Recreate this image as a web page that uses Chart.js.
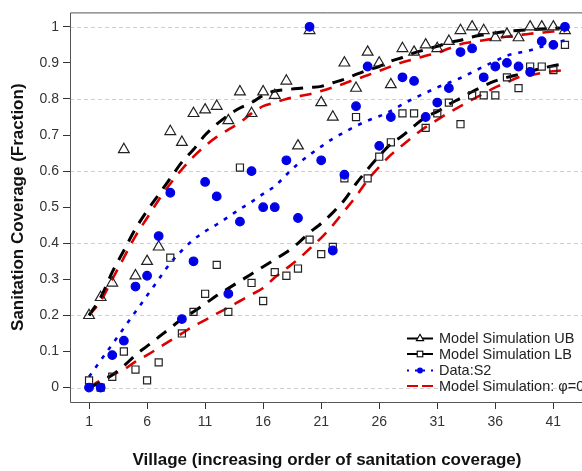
<!DOCTYPE html>
<html>
<head>
<meta charset="utf-8">
<script src="https://cdn.jsdelivr.net/npm/chart.js@4.4.1/dist/chart.umd.min.js"></script>
<style>
  html, body { margin: 0; padding: 0; background: #fff; }
  #wrap { width: 582px; height: 471px; overflow: hidden; position: relative; }
  canvas { display: block; }
</style>
</head>
<body>
<div id="wrap"><canvas id="c" width="620" height="471"></canvas></div>
<script>
// Villages ranked by sanitation coverage
const villages = [1,2,3,4,5,6,7,8,9,10,11,12,13,14,15,16,17,18,19,20,21,
                  22,23,24,25,26,27,28,29,30,31,32,33,34,35,36,37,38,39,40,41,42];

const xTickValues = [1, 6, 11, 16, 21, 26, 31, 36, 41];
const yTickValues = [0, 0.1, 0.2, 0.3, 0.4, 0.5, 0.6, 0.7, 0.8, 0.9, 1];
const yTickLabels = ['0','0.1','0.2','0.3','0.4','0.5','0.6','0.7','0.8','0.9','1'];
const yGridValues = [0, 0.2, 0.4, 0.6, 0.8, 1];

// Upper-bound simulation outcomes (triangles)
const ubPoints = [0.20,0.25,0.29,0.66,0.31,0.35,0.39,0.71,0.68,0.76,0.77,0.78,0.74,0.82,
                  0.76,0.82,0.81,0.85,0.67,0.99,0.79,0.75,0.90,0.83,0.93,0.90,0.84,0.94,
                  0.93,0.95,0.94,0.96,0.99,1.00,0.99,0.97,0.98,0.97,1.00,1.00,1.00,0.99];

// Lower-bound simulation outcomes (squares)
const lbPoints = [0.02,0.00,0.03,0.10,0.05,0.02,0.07,0.36,0.15,0.21,0.26,0.34,0.21,0.61,
                  0.29,0.24,0.32,0.31,0.33,0.41,0.37,0.39,0.58,0.75,0.58,0.64,0.68,0.76,
                  0.76,0.72,0.76,0.79,0.73,0.81,0.81,0.81,0.86,0.83,0.89,0.89,0.88,0.95];

// Observed coverage, survey S2
const dataS2 = [0.00,0.00,0.09,0.13,0.28,0.31,0.42,0.54,0.19,0.35,0.57,0.53,0.26,0.46,
                0.60,0.50,0.50,0.63,0.47,1.00,0.63,0.38,0.59,0.78,0.89,0.67,0.75,0.86,
                0.85,0.75,0.79,0.83,0.93,0.94,0.86,0.89,0.90,0.89,0.875,0.96,0.95,1.00];

// Smoothed curves
const ubCurve = [0.20,0.25,0.32,0.38,0.44,0.49,0.535,0.58,0.625,0.66,0.70,0.73,0.755,0.775,
                 0.79,0.81,0.822,0.826,0.829,0.832,0.835,0.845,0.855,0.868,0.88,0.89,0.905,0.915,
                 0.928,0.937,0.946,0.956,0.963,0.972,0.978,0.983,0.987,0.99,0.992,0.994,0.996,0.997];
const lbCurve = [0.00,0.015,0.035,0.06,0.09,0.115,0.14,0.165,0.19,0.21,0.232,0.255,0.275,0.295,
                 0.315,0.335,0.355,0.375,0.40,0.43,0.455,0.485,0.52,0.565,0.605,0.642,0.675,0.698,
                 0.725,0.75,0.765,0.785,0.802,0.82,0.836,0.85,0.86,0.868,0.877,0.885,0.892,0.898];
const s2Curve = [0.03,0.075,0.12,0.165,0.21,0.255,0.30,0.345,0.38,0.41,0.433,0.452,0.473,0.495,
                 0.515,0.537,0.558,0.59,0.62,0.645,0.668,0.69,0.708,0.725,0.74,0.752,0.767,0.785,
                 0.802,0.817,0.832,0.845,0.858,0.874,0.89,0.905,0.92,0.928,0.935,0.945,0.955,0.962];
const phiUpper = [0.20,0.24,0.30,0.36,0.42,0.47,0.52,0.565,0.605,0.64,0.67,0.695,0.715,0.735,
                  0.76,0.78,0.79,0.80,0.807,0.813,0.822,0.832,0.843,0.855,0.866,0.878,0.89,0.902,
                  0.91,0.92,0.928,0.94,0.952,0.958,0.963,0.968,0.973,0.977,0.981,0.984,0.987,0.988];
const phiLower = [0.00,0.02,0.035,0.05,0.072,0.09,0.11,0.13,0.15,0.17,0.187,0.205,0.222,0.24,
                  0.258,0.276,0.305,0.33,0.355,0.385,0.415,0.45,0.49,0.53,0.575,0.612,0.645,0.672,
                  0.698,0.722,0.742,0.762,0.78,0.798,0.815,0.832,0.846,0.86,0.866,0.872,0.877,0.88];

const legendLabels = ['Model Simulation UB', 'Model Simulation LB', 'Data:S2', 'Model Simulation: \u03C6=0'];
const xTitle = 'Village (increasing order of sanitation coverage)';
const yTitle = 'Sanitation Coverage (Fraction)';

const BLUE = '#0000e6';
const RED = '#dd0000';
const FONT = '"Liberation Sans", Arial, sans-serif';

const pts = ys => villages.map((v, i) => ({ x: v, y: ys[i] }));

const curve = (ys, color, width, dash, order) => ({
  data: pts(ys), borderColor: color, borderWidth: width, borderDash: dash,
  borderCapStyle: 'butt', pointRadius: 0, fill: false,
  cubicInterpolationMode: 'monotone', order
});

const markers = (ys, style, radius, stroke, fillColor, order) => ({
  data: pts(ys), showLine: false, pointStyle: style, pointRadius: radius,
  pointBorderColor: stroke, pointBackgroundColor: fillColor, pointBorderWidth: 1.2,
  borderColor: stroke, backgroundColor: fillColor, order
});

// Grid, frame, axis titles and legend
const decor = {
  id: 'decor',
  beforeDatasetsDraw(chart) {
    const { ctx, chartArea: a, scales: { y } } = chart;
    ctx.save();
    ctx.strokeStyle = '#d0d0d0';
    ctx.lineWidth = 1;
    ctx.setLineDash([4, 3]);
    yGridValues.forEach(v => {
      const py = Math.round(y.getPixelForValue(v)) + 0.5;
      ctx.beginPath(); ctx.moveTo(a.left, py); ctx.lineTo(a.right, py); ctx.stroke();
    });
    ctx.restore();
  },
  afterDraw(chart) {
    const { ctx, chartArea: a } = chart;
    ctx.save();
    ctx.strokeStyle = '#555';
    ctx.lineWidth = 1;
    const L = a.left + 0.5, T = a.top + 0.5, B = Math.round(a.bottom) + 0.5;
    ctx.beginPath();
    ctx.moveTo(a.right, T); ctx.lineTo(L, T); ctx.lineTo(L, B); ctx.lineTo(a.right, B);
    ctx.stroke();

    ctx.fillStyle = '#111';
    ctx.font = 'bold 17px ' + FONT;
    ctx.textAlign = 'center';
    ctx.textBaseline = 'middle';
    ctx.fillText(xTitle, (a.left + a.right) / 2, 460);
    ctx.save();
    ctx.translate(18, (a.top + a.bottom) / 2);
    ctx.rotate(-Math.PI / 2);
    ctx.fillText(yTitle, 0, 0);
    ctx.restore();

    // legend
    const rowsY = [338.5, 354, 370.5, 386];
    const x0 = 407, x1 = 433, xm = 420, tx = 439;
    ctx.font = '14.5px ' + FONT;
    ctx.textAlign = 'left';
    ctx.fillStyle = '#222';
    legendLabels.forEach((t, i) => ctx.fillText(t, tx, rowsY[i] + 0.5));

    // UB row
    let yy = rowsY[0];
    ctx.strokeStyle = '#000'; ctx.lineWidth = 2; ctx.setLineDash([]);
    ctx.beginPath(); ctx.moveTo(x0, yy); ctx.lineTo(x1, yy); ctx.stroke();
    ctx.fillStyle = '#fff'; ctx.lineWidth = 1.1;
    const r = 4.2;
    ctx.beginPath();
    ctx.moveTo(xm, yy - r);
    ctx.lineTo(xm + r * 0.866, yy + r * 0.5);
    ctx.lineTo(xm - r * 0.866, yy + r * 0.5);
    ctx.closePath(); ctx.fill(); ctx.stroke();

    // LB row
    yy = rowsY[1];
    ctx.lineWidth = 2;
    ctx.beginPath(); ctx.moveTo(x0, yy); ctx.lineTo(x1, yy); ctx.stroke();
    ctx.lineWidth = 1.1;
    ctx.fillRect(xm - 2.8, yy - 2.8, 5.6, 5.6);
    ctx.strokeRect(xm - 2.8, yy - 2.8, 5.6, 5.6);

    // Data row
    yy = rowsY[2];
    ctx.strokeStyle = BLUE; ctx.lineWidth = 2.2; ctx.setLineDash([2, 6]);
    ctx.beginPath(); ctx.moveTo(x0, yy); ctx.lineTo(x1, yy); ctx.stroke();
    ctx.setLineDash([]);
    ctx.fillStyle = BLUE;
    ctx.beginPath(); ctx.arc(xm, yy, 3, 0, Math.PI * 2); ctx.fill();

    // phi row
    yy = rowsY[3];
    ctx.strokeStyle = RED; ctx.lineWidth = 2.2; ctx.setLineDash([11, 4]);
    ctx.beginPath(); ctx.moveTo(x0, yy); ctx.lineTo(x1 + 1, yy); ctx.stroke();
    ctx.restore();
  }
};

new Chart(document.getElementById('c'), {
  type: 'line',
  data: {
    datasets: [
      curve(phiUpper, RED, 2.6, [12, 9], 8),
      curve(phiLower, RED, 2.6, [12, 9], 7),
      curve(ubCurve, '#000', 3, [12, 9], 6),
      curve(lbCurve, '#000', 3, [12, 9], 5),
      curve(s2Curve, BLUE, 2.6, [4, 7], 4),
      markers(ubPoints, 'triangle', 6.2, '#222', 'rgba(255,255,255,0)', 3),
      markers(lbPoints, 'rect', 5, '#222', 'rgba(255,255,255,0)', 2),
      markers(dataS2, 'circle', 4.3, BLUE, BLUE, 1)
    ]
  },
  options: {
    responsive: false,
    animation: false,
    events: [],
    layout: { padding: { top: 3, right: 36, left: 0, bottom: 0 } },
    plugins: { legend: { display: false }, tooltip: { enabled: false } },
    scales: {
      x: {
        type: 'linear', min: -0.64, max: 43.64,
        border: { display: false },
        grid: { drawOnChartArea: false, tickLength: 7, tickColor: '#333', tickWidth: 1 },
        afterBuildTicks: s => { s.ticks = xTickValues.map(v => ({ value: v })); },
        afterFit: s => { s.height = 69; },
        ticks: {
          autoSkip: false, maxRotation: 0, padding: 5, color: '#333',
          font: { family: FONT, size: 14 },
          callback: v => String(v)
        }
      },
      y: {
        type: 'linear', min: -0.04, max: 1.04,
        border: { display: false },
        grid: { drawOnChartArea: false, tickLength: 7, tickColor: '#333', tickWidth: 1 },
        afterBuildTicks: s => { s.ticks = yTickValues.map(v => ({ value: v })); },
        afterFit: s => { s.width = 70; },
        ticks: {
          autoSkip: false, padding: 4, color: '#333',
          font: { family: FONT, size: 14 },
          callback: (v, i) => yTickLabels[i]
        }
      }
    }
  },
  plugins: [decor]
});
</script>
</body>
</html>
